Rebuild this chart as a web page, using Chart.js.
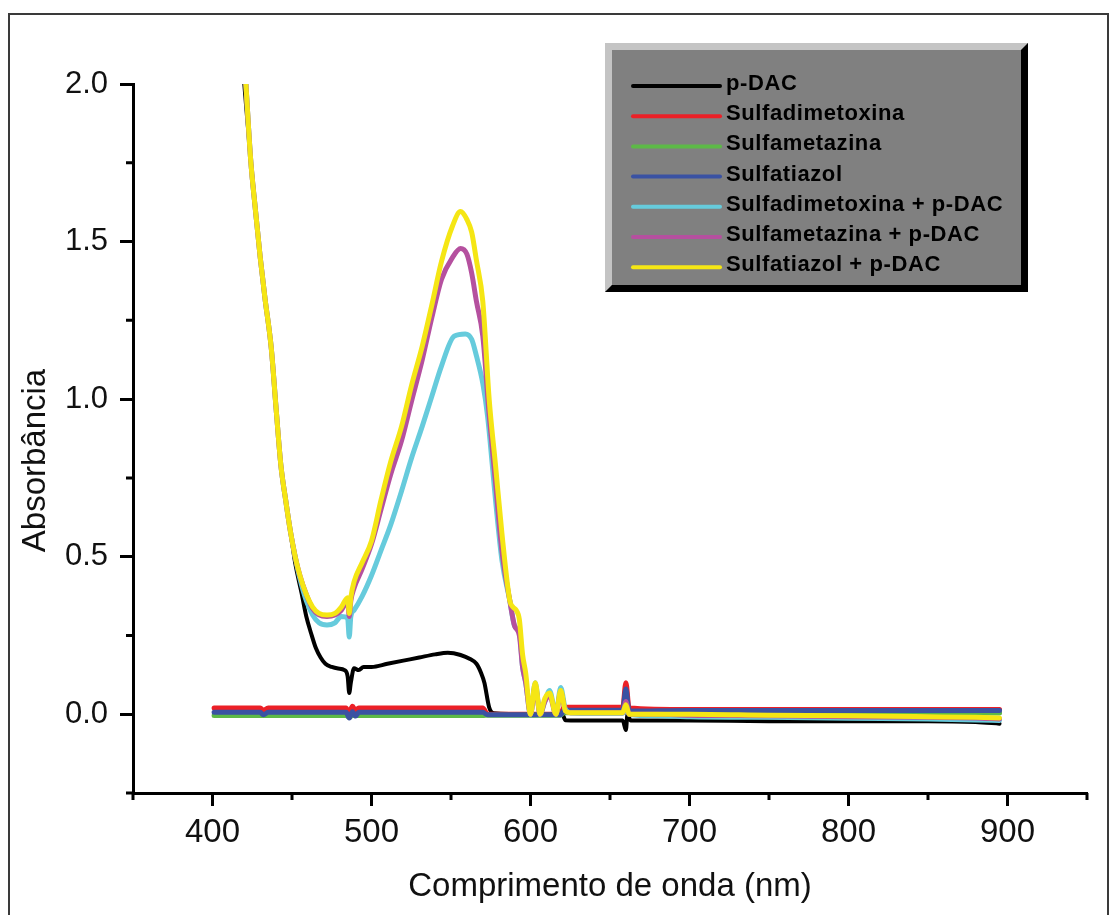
<!DOCTYPE html>
<html>
<head>
<meta charset="utf-8">
<script src="https://cdn.jsdelivr.net/npm/chart.js@4.4.1/dist/chart.umd.min.js"></script>
<style>
body { margin: 0; background: #fff; }
#wrap { position: relative; width: 1110px; height: 915px; overflow: hidden; }
#moldura { position: absolute; left: 8px; top: 13px; width: 1097px; height: 930px; border: 2px solid #3a3a3a; }
#grafico { position: absolute; left: 0; top: 0; }
</style>
</head>
<body>
<div id="wrap">
<div id="moldura"></div>
<canvas id="grafico" width="1110" height="915"></canvas>
</div>
<script>
// comprimento de onda (nm) e absorbancia
var pdacX = [420,424,427,430,433,437,440,443,446,449,452,456,459,462,465,468,471,475,479,483,485,486,487,489,492,495,500,510,520,530,540,548,556,562,566,569,571,574,577,600,620,622,640,658,660,661,663,680,700,750,800,850,880,895];
var pdacY = [2.0,1.76,1.6,1.45,1.32,1.16,0.97,0.79,0.68,0.58,0.48,0.385,0.31,0.257,0.21,0.18,0.16,0.15,0.145,0.14,0.12,0.067,0.1,0.146,0.14,0.15,0.15,0.16,0.17,0.18,0.19,0.195,0.188,0.175,0.16,0.13,0.1,0.022,0.003,0.0,0.0,-0.019,-0.02,-0.02,-0.05,0.0,-0.02,-0.02,-0.02,-0.022,-0.022,-0.022,-0.025,-0.03];

var redX = [401,430,432,435,484,486,488,490,492,570,573,619,621,658,660,662,700,750,800,850,895];
var redY = [0.02,0.02,0.012,0.02,0.02,0.005,0.025,0.012,0.02,0.02,0.0,0.0,0.022,0.022,0.1,0.02,0.015,0.015,0.015,0.015,0.015];

var greenX = [401,484,486,488,570,573,619,621,658,660,662,700,800,850,895];
var greenY = [-0.004,-0.004,-0.01,-0.004,-0.004,-0.003,-0.003,0.005,0.005,0.05,0.005,0.005,0.005,0.004,0.004];

var blueX = [401,430,432,435,484,486,488,490,492,570,573,619,621,658,660,662,700,750,800,850,895];
var blueY = [0.006,0.006,-0.002,0.006,0.006,-0.012,0.008,-0.006,0.006,0.006,-0.002,-0.002,0.013,0.013,0.08,0.01,0.012,0.012,0.012,0.012,0.012];

var cyanX = [421,424,427,430,433,437,440,443,446,449,452,455,459,463,467,472,477,481,485,486,487,489,494,500,506,512,519,525,532,538,544,552,559,563,566,570,573,578,582,587,590,593,595,597,600,603,606,609,612,616,619,622,625,640,658,660,662,680,700,750,800,850,880,895];
var cyanY = [2.0,1.76,1.6,1.45,1.32,1.16,0.97,0.79,0.68,0.58,0.5,0.43,0.36,0.315,0.29,0.283,0.29,0.31,0.305,0.245,0.31,0.33,0.373,0.44,0.52,0.60,0.71,0.81,0.915,1.01,1.105,1.2,1.207,1.19,1.137,1.05,0.946,0.68,0.49,0.36,0.28,0.26,0.15,0.1,0.0,0.1,0.0,0.04,0.075,0.0,0.085,0.015,0.005,0.003,0.003,0.02,0.0,-0.005,-0.008,-0.01,-0.013,-0.015,-0.018,-0.02];

var magX = [421,424,427,430,433,437,440,443,446,449,452,455,459,463,467,472,477,481,485,486,487,489,494,500,506,512,519,525,532,538,544,551,556,560,563,566,570,574,578,582,587,590,593,595,597,600,603,606,609,612,616,619,622,625,640,658,660,662,680,700,750,800,850,880,895];
var magY = [2.0,1.76,1.6,1.45,1.32,1.16,0.97,0.79,0.68,0.58,0.5,0.44,0.38,0.335,0.315,0.31,0.315,0.33,0.36,0.31,0.36,0.40,0.46,0.54,0.65,0.76,0.87,0.99,1.127,1.26,1.38,1.45,1.478,1.46,1.40,1.31,1.20,0.95,0.735,0.52,0.36,0.28,0.25,0.15,0.1,0.0,0.09,0.0,0.04,0.06,0.0,0.07,0.01,0.005,0.005,0.005,0.04,0.0,0.0,-0.003,-0.005,-0.008,-0.01,-0.012,-0.015];

var yellowX = [421,424,427,430,433,437,440,443,446,449,452,455,459,463,467,472,477,481,485,486,487,489,494,500,506,512,519,525,532,538,544,551,556,560,563,566,570,574,578,582,587,589,591,593,595,597,600,603,606,609,612,616,619,622,625,640,658,660,662,680,700,750,800,850,880,895];
var yellowY = [2.0,1.76,1.6,1.45,1.32,1.16,0.97,0.79,0.68,0.58,0.5,0.44,0.38,0.34,0.32,0.315,0.32,0.34,0.37,0.32,0.37,0.42,0.48,0.55,0.68,0.80,0.915,1.04,1.17,1.30,1.436,1.55,1.595,1.57,1.53,1.44,1.31,1.0,0.79,0.575,0.36,0.34,0.33,0.30,0.19,0.13,0.0,0.10,0.0,0.05,0.067,0.0,0.075,0.01,0.005,0.005,0.005,0.03,0.0,0.0,0.0,-0.003,-0.005,-0.008,-0.01,-0.012];

var nomes = ["p-DAC", "Sulfadimetoxina", "Sulfametazina", "Sulfatiazol",
    "Sulfadimetoxina + p-DAC", "Sulfametazina + p-DAC", "Sulfatiazol + p-DAC"];
var cores = ["#000000", "#ec2027", "#5db947", "#3a52a3", "#66cbdc", "#b5509f", "#f5e614"];

var xMajor = [400, 500, 600, 700, 800, 900];
var xMinor = [350, 450, 550, 650, 750, 850, 950];
var yMajor = [0.0, 0.5, 1.0, 1.5, 2.0];
var yMinor = [-0.25, 0.25, 0.75, 1.25, 1.75];

function pontos(xs, ys) {
    var p = [];
    for (var i = 0; i < xs.length; i++) {
        p.push({ x: xs[i], y: ys[i] });
    }
    return p;
}

var series = [
    pontos(pdacX, pdacY), pontos(redX, redY), pontos(greenX, greenY), pontos(blueX, blueY),
    pontos(cyanX, cyanY), pontos(magX, magY), pontos(yellowX, yellowY)
];

var datasets = [];
for (var i = 0; i < series.length; i++) {
    datasets.push({
        label: nomes[i],
        data: series[i],
        borderColor: cores[i],
        backgroundColor: cores[i],
        borderWidth: i == 0 ? 4 : 5,
        borderJoinStyle: 'round',
        borderCapStyle: 'round',
        pointRadius: 0,
        cubicInterpolationMode: 'monotone',
        order: 7 - i
    });
}

var fonte = "'Liberation Sans', Arial, sans-serif";

// ticks menores, titulo do eixo y e legenda com moldura cinza
const extras = {
    id: 'extras',
    afterDraw(chart) {
        const ctx = chart.ctx;
        const xs = chart.scales.x;
        const ys = chart.scales.y;
        const area = chart.chartArea;
        ctx.save();
        ctx.strokeStyle = '#000';
        ctx.lineWidth = 3;
        ctx.beginPath();
        xMinor.forEach(function (v) {
            var px = xs.getPixelForValue(v);
            ctx.moveTo(px, area.bottom);
            ctx.lineTo(px, area.bottom + 7);
        });
        yMinor.forEach(function (v) {
            var py = ys.getPixelForValue(v);
            ctx.moveTo(area.left, py);
            ctx.lineTo(area.left - 7, py);
        });
        ctx.stroke();

        // titulo do eixo y (um pouco abaixo do centro, como no original)
        ctx.save();
        ctx.translate(36, (area.top + area.bottom) / 2 + 22);
        ctx.rotate(-Math.PI / 2);
        ctx.font = "33px " + fonte;
        ctx.fillStyle = '#111';
        ctx.textAlign = 'center';
        ctx.textBaseline = 'middle';
        ctx.fillText('Absorbância', 0, 0);
        ctx.restore();

        // caixa da legenda
        var L = 605, T = 43, R = 1028, B = 292, b = 7;
        ctx.fillStyle = '#808080';
        ctx.fillRect(L, T, R - L, B - T);
        ctx.fillStyle = '#c4c4c4';
        ctx.beginPath();
        ctx.moveTo(L, T); ctx.lineTo(R, T); ctx.lineTo(R - b, T + b);
        ctx.lineTo(L + b, T + b); ctx.lineTo(L + b, B - b); ctx.lineTo(L, B);
        ctx.closePath();
        ctx.fill();
        ctx.fillStyle = '#000';
        ctx.beginPath();
        ctx.moveTo(R, T); ctx.lineTo(R, B); ctx.lineTo(L, B);
        ctx.lineTo(L + b, B - b); ctx.lineTo(R - b, B - b); ctx.lineTo(R - b, T + b);
        ctx.closePath();
        ctx.fill();

        ctx.font = "bold 22px " + fonte;
        ctx.letterSpacing = '0.6px';
        ctx.textAlign = 'left';
        ctx.textBaseline = 'alphabetic';
        chart.data.datasets.forEach(function (ds, k) {
            var ly = 86 + k * 30.2;
            ctx.strokeStyle = ds.borderColor;
            ctx.lineWidth = 4;
            ctx.lineCap = 'round';
            ctx.beginPath();
            ctx.moveTo(633, ly);
            ctx.lineTo(720, ly);
            ctx.stroke();
            ctx.fillStyle = '#000';
            ctx.fillText(ds.label, 726, ly + 4);
        });
        ctx.restore();
    }
};

const ctx = document.getElementById('grafico').getContext('2d');
const grafico = new Chart(ctx, {
    type: 'line',
    data: { datasets: datasets },
    plugins: [extras],
    options: {
        responsive: false,
        animation: false,
        layout: { padding: { top: 84, right: 23, left: 0, bottom: 0 } },
        plugins: {
            legend: { display: false },
            tooltip: { enabled: false }
        },
        scales: {
            x: {
                type: 'linear',
                min: 350,
                max: 950,
                afterFit: function (scale) { scale.height = 122; },
                afterBuildTicks: function (scale) {
                    scale.ticks = xMajor.map(function (v) { return { value: v }; });
                },
                border: { display: true, color: '#000', width: 3 },
                grid: { drawOnChartArea: false, drawTicks: true, tickLength: 13, tickWidth: 3, tickColor: '#000' },
                ticks: {
                    color: '#111',
                    padding: 7,
                    maxRotation: 0,
                    font: { family: fonte, size: 33 },
                    callback: function (v) { return v; }
                },
                title: {
                    display: true,
                    text: 'Comprimento de onda (nm)',
                    color: '#111',
                    font: { family: fonte, size: 33 },
                    padding: { top: 0, bottom: 8 }
                }
            },
            y: {
                min: -0.25,
                max: 2.0,
                afterFit: function (scale) { scale.width = 133; },
                afterBuildTicks: function (scale) {
                    scale.ticks = yMajor.map(function (v) { return { value: v }; });
                },
                border: { display: true, color: '#000', width: 3 },
                grid: { drawOnChartArea: false, drawTicks: true, tickLength: 13, tickWidth: 3, tickColor: '#000' },
                ticks: {
                    color: '#111',
                    padding: 12,
                    font: { family: fonte, size: 31 },
                    callback: function (v) { return v.toFixed(1); }
                }
            }
        }
    }
});
</script>
</body>
</html>
